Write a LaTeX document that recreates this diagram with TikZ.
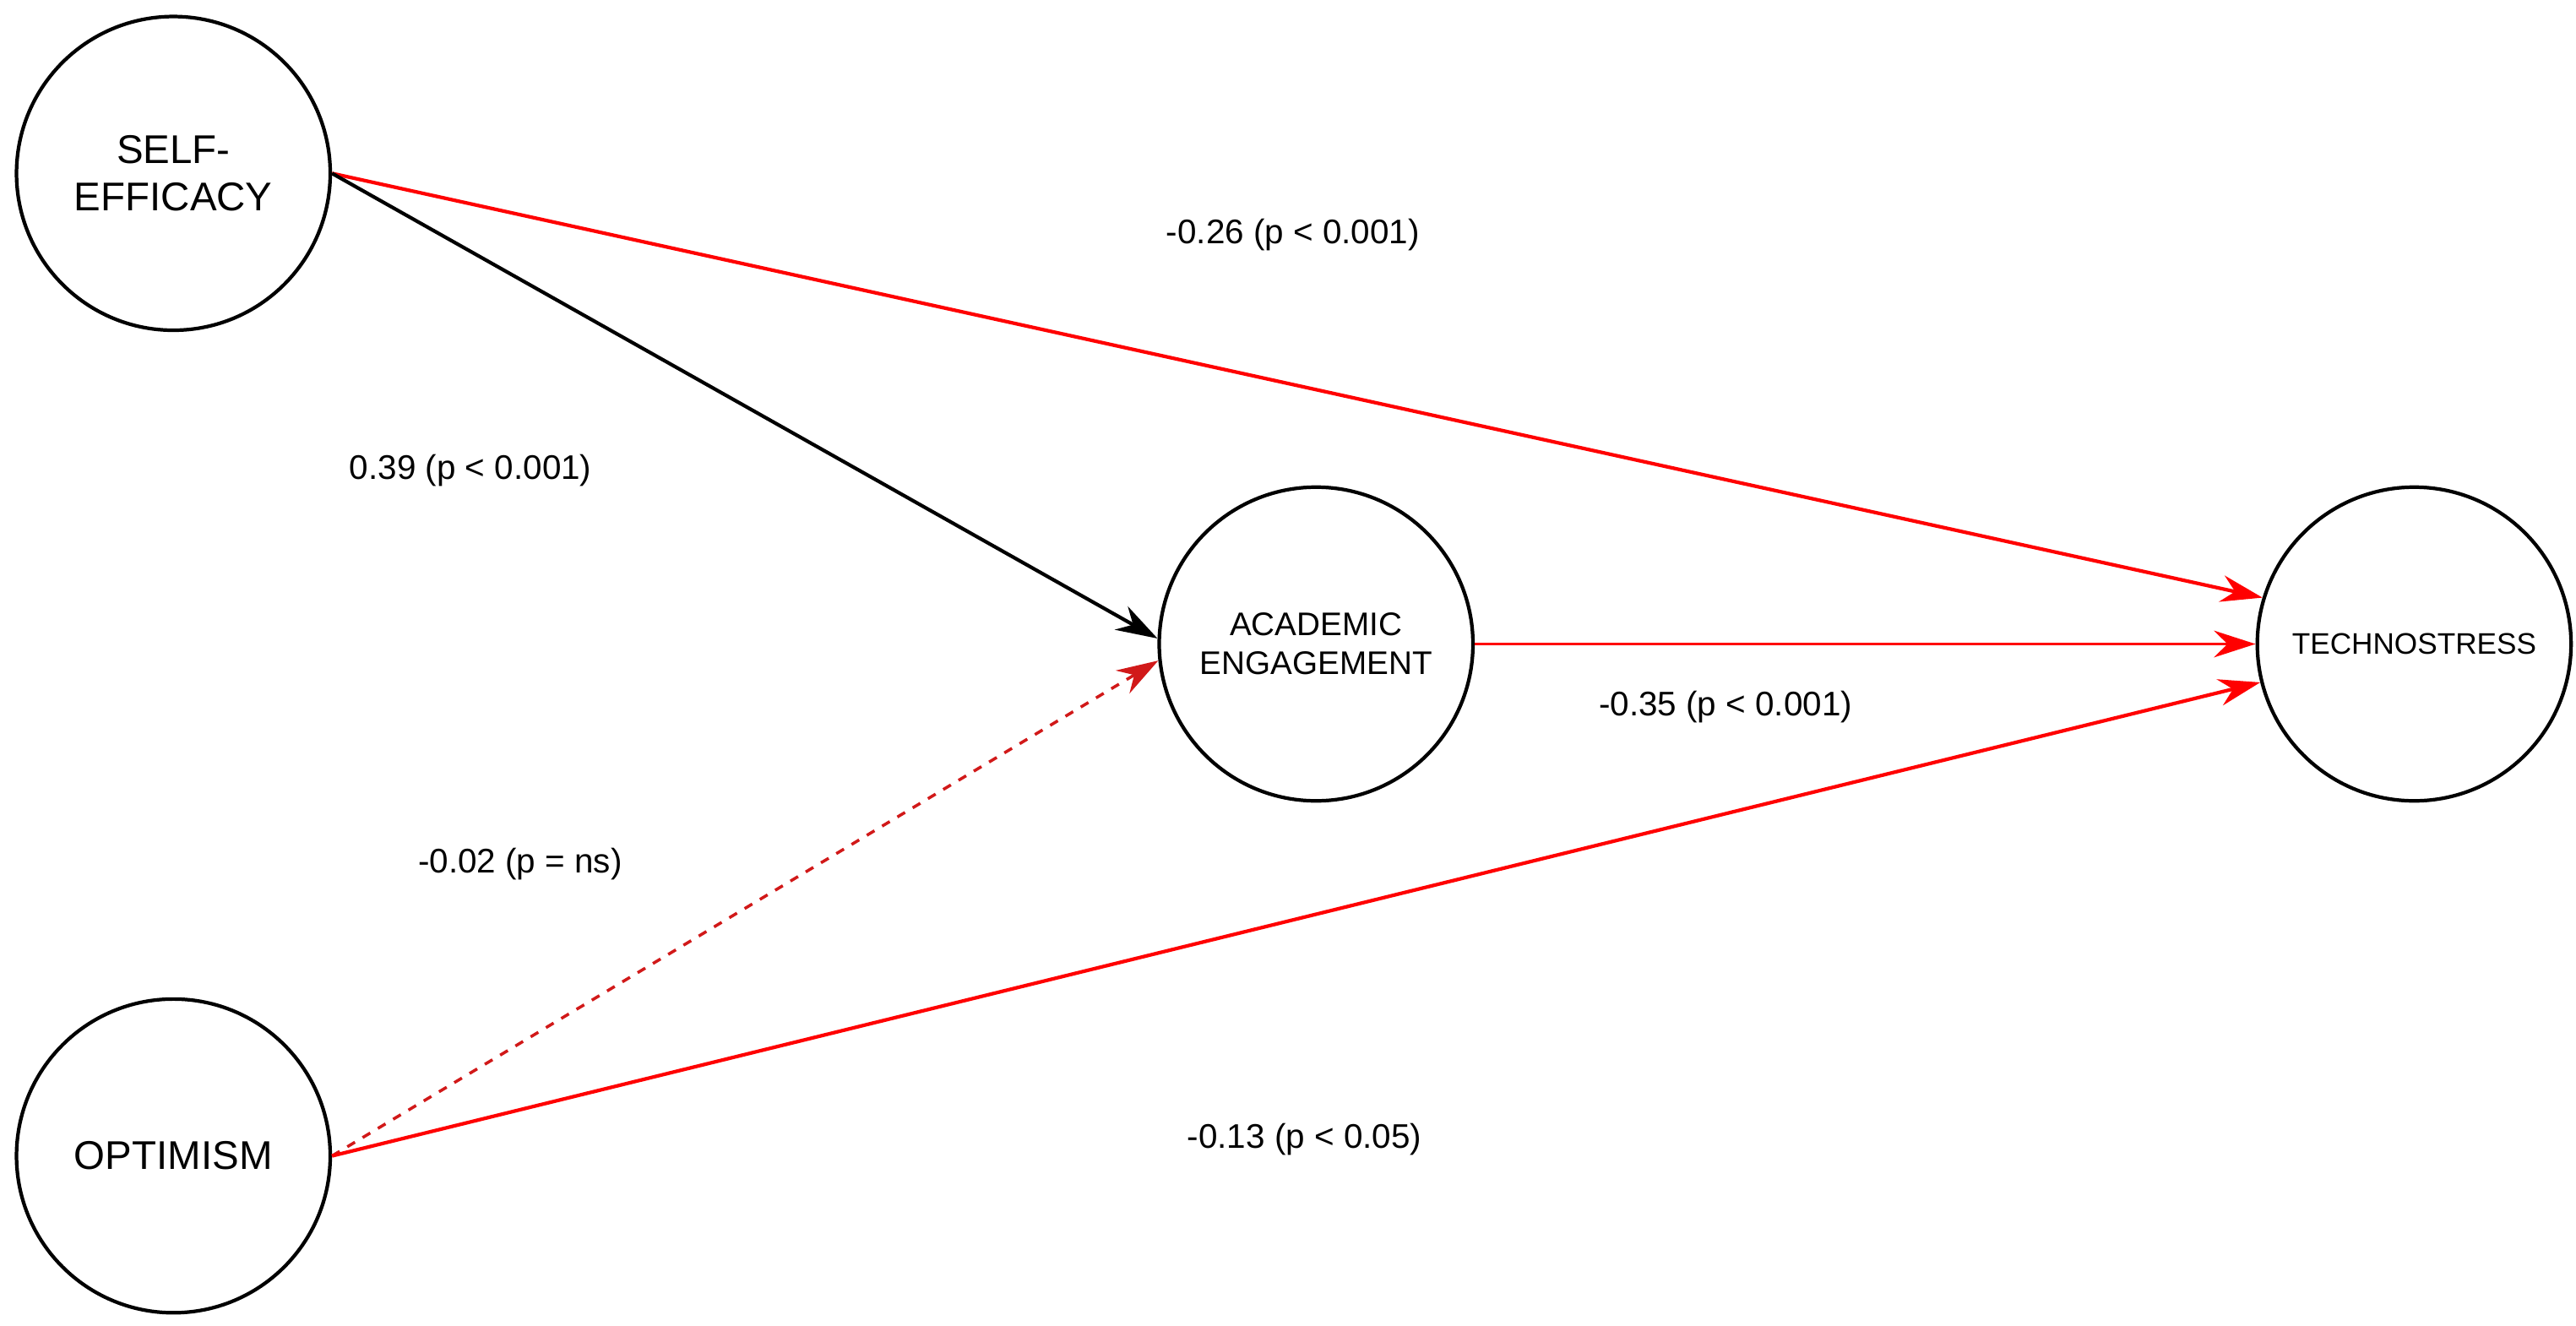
\documentclass[tikz,border=0pt]{standalone}
\usepackage{fontspec}
\setmainfont{Liberation Sans}
\usetikzlibrary{arrows.meta}
\begin{document}
\begin{tikzpicture}[x=0.01955cm,y=-0.01955cm,
  circ/.style={circle,draw,line width=1.2pt,minimum size=190*0.01955cm,inner sep=0pt,align=center},
  lab/.style={font=\fontsize{11.5}{13}\selectfont},
  arr/.style={line width=1.2pt,-{Stealth[length=14pt,width=9pt]}},
  redarr/.style={arr,red}]
\useasboundingbox (0,0) rectangle (1560,803);
\node[circ,font=\fontsize{13.5}{16}\selectfont] (se) at (105,105) {SELF-\\EFFICACY};
\node[circ,font=\fontsize{13.5}{16}\selectfont] (op) at (105,700) {OPTIMISM};
\node[circ,font=\fontsize{11}{13}\selectfont] (ae) at (797,390) {ACADEMIC\\ENGAGEMENT};
\node[circ,font=\fontsize{10}{12}\selectfont] (ts) at (1462,390) {TECHNOSTRESS};
\draw[redarr] (se.east) -- (ts.163);
\draw[arr] (se.east) -- (ae.178);
\draw[redarr,line width=1pt,dashed,-{Stealth[length=14pt,width=9pt]},red!80!black!90!white] (op.east) -- (ae.186);
\draw[redarr] (op.east) -- (ts.194);
\draw[redarr,line width=1pt] (ae.east) -- (ts.west);
\node[lab] (l1) at (783,142) {-0.26 (p < 0.001)};
\node[lab] (l2) at (285,285) {0.39 (p < 0.001)};
\node[lab] (l3) at (1045,428) {-0.35 (p < 0.001)};
\node[lab] (l4) at (315,523) {-0.02 (p = ns)};
\node[lab] (l5) at (790,690) {-0.13 (p < 0.05)};
\end{tikzpicture}
\end{document}
